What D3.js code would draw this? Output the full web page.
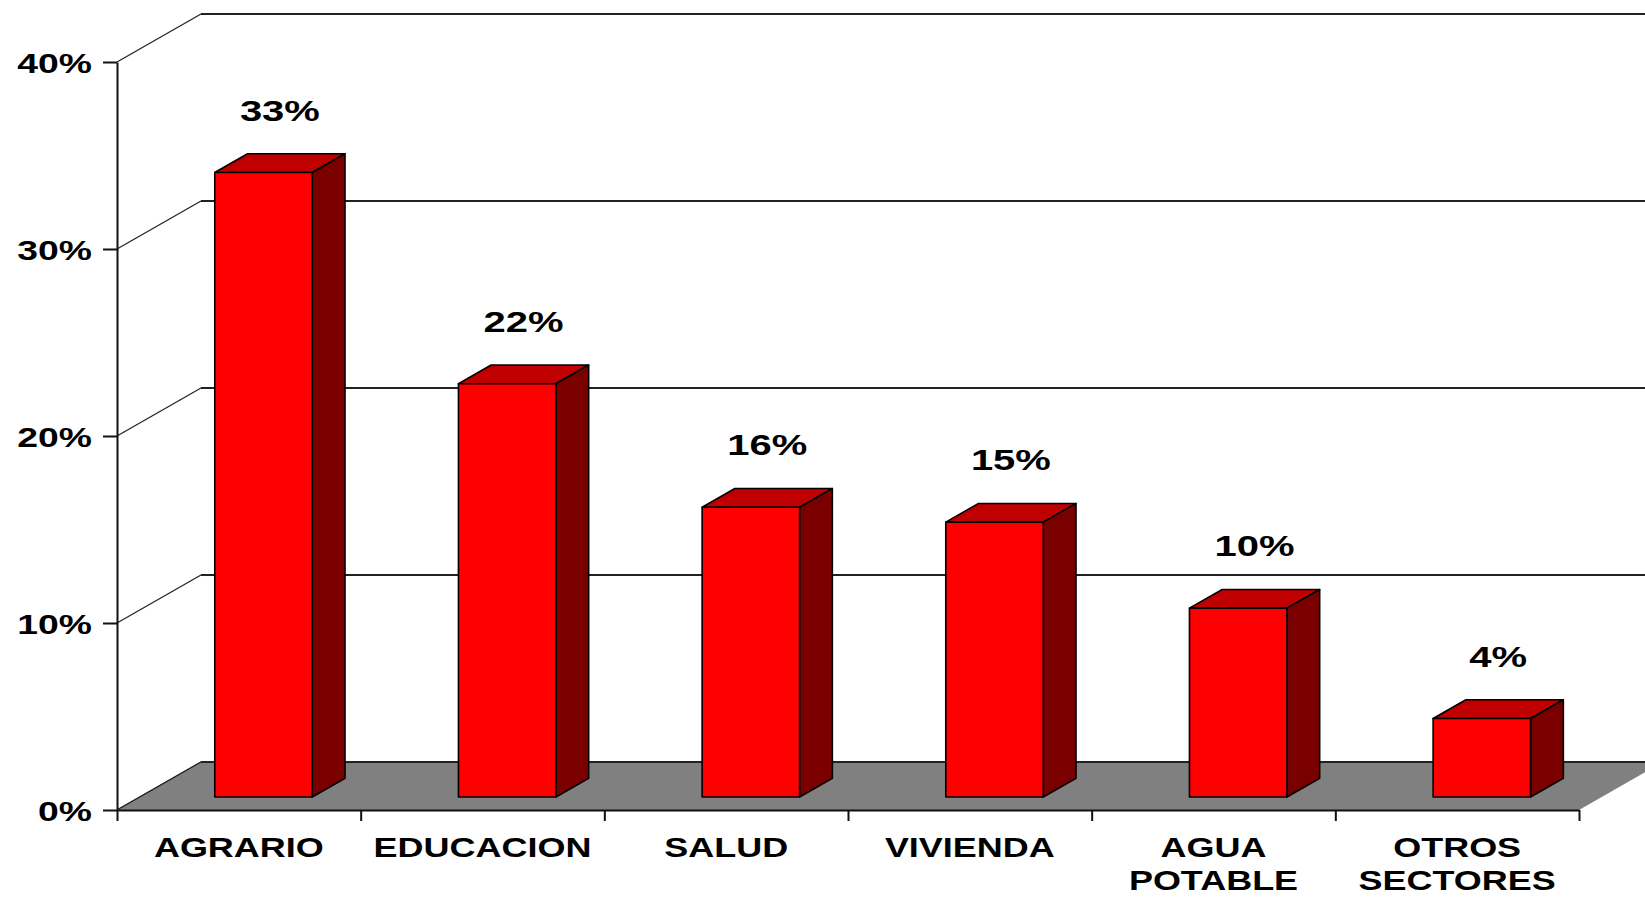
<!DOCTYPE html>
<html>
<head>
<meta charset="utf-8">
<script src="https://cdn.jsdelivr.net/npm/d3@7"></script>
<style>
  body { margin: 0; background: #fff; }
  svg { display: block; }
  text { font-family: 'Liberation Sans', Arial, sans-serif; font-weight: bold; fill: #000; }
</style>
</head>
<body>
<main></main>
<script>
const categories = ['AGRARIO', 'EDUCACION', 'SALUD', 'VIVIENDA', 'AGUA\nPOTABLE', 'OTROS\nSECTORES']
const values = [33.4, 22.1, 15.5, 14.7, 10.1, 4.2]
const valueLabels = ['33%', '22%', '16%', '15%', '10%', '4%']
const yTicks = [0, 10, 20, 30, 40]

const W = 1645
const H = 897
const stretch = 1.333 // the source picture is widened horizontally
const depth = { dx: 84, dy: 48 }
const barDepth = { front: 0.27, back: 0.66 }

const svg = d3.select('main')
  .append('svg')
  .attr('width', W)
  .attr('height', H)

const x = d3.scaleBand()
  .domain(categories)
  .range([117, 1579])
  .padding(0)
const xEdge = d3.scaleLinear()
  .domain([0, categories.length])
  .range([117, 1579])
const y = d3.scaleLinear()
  .domain([0, 40])
  .range([810, 62])

// project a front-plane point (px, value) back by depth fraction f
function proj (px, v, f) {
  return [px + depth.dx * f, y(v) - depth.dy * f]
}
function poly (pts) {
  return 'M' + pts.map(p => p.join(',')).join('L') + 'Z'
}

// back wall grid lines
svg.append('g')
  .selectAll('line')
  .data(yTicks)
  .enter()
  .append('line')
  .attr('x1', d => proj(117, d, 1)[0])
  .attr('x2', d => proj(1579, d, 1)[0])
  .attr('y1', d => proj(117, d, 1)[1])
  .attr('y2', d => proj(117, d, 1)[1])
  .style('stroke', '#222')
  .style('stroke-width', '2px')

// side wall lines
svg.append('g')
  .selectAll('line')
  .data(yTicks)
  .enter()
  .append('line')
  .attr('x1', d => proj(117, d, 0)[0])
  .attr('y1', d => proj(117, d, 0)[1])
  .attr('x2', d => proj(117, d, 1)[0])
  .attr('y2', d => proj(117, d, 1)[1])
  .style('stroke', '#222')
  .style('stroke-width', '1.2px')

// floor
svg.append('path')
  .attr('d', poly([proj(117, 0, 0), proj(1579, 0, 0), proj(1579, 0, 1), proj(117, 0, 1)]))
  .style('fill', '#808080')
svg.append('line')
  .attr('x1', proj(117, 0, 1)[0])
  .attr('x2', proj(1579, 0, 1)[0])
  .attr('y1', proj(117, 0, 1)[1])
  .attr('y2', proj(117, 0, 1)[1])
  .style('stroke', '#222')
  .style('stroke-width', '2px')
svg.append('line')
  .attr('x1', proj(117, 0, 0)[0])
  .attr('y1', proj(117, 0, 0)[1])
  .attr('x2', proj(117, 0, 1)[0])
  .attr('y2', proj(117, 0, 1)[1])
  .style('stroke', '#222')
  .style('stroke-width', '1.2px')

// bars
const data = categories.map((c, i) => ({ cat: c, v: values[i], label: valueLabels[i] }))
const bw = x.bandwidth() * 0.4
const bar = svg.append('g')
  .selectAll('g')
  .data(data)
  .enter()
  .append('g')
  .attr('class', 'bar')

function bx0 (d) { return x(d.cat) + (x.bandwidth() - bw) / 2 + 2 }

bar.append('path')
  .attr('d', d => {
    const a = barDepth.front
    const b = barDepth.back
    return poly([proj(bx0(d), d.v, a), proj(bx0(d) + bw, d.v, a), proj(bx0(d) + bw, d.v, b), proj(bx0(d), d.v, b)])
  })
  .style('fill', '#c00000')
bar.append('path')
  .attr('d', d => {
    const a = barDepth.front
    const b = barDepth.back
    const x1 = bx0(d) + bw
    return poly([proj(x1, 0, a), proj(x1, 0, b), proj(x1, d.v, b), proj(x1, d.v, a)])
  })
  .style('fill', '#7a0000')
bar.append('path')
  .attr('d', d => {
    const a = barDepth.front
    return poly([proj(bx0(d), 0, a), proj(bx0(d) + bw, 0, a), proj(bx0(d) + bw, d.v, a), proj(bx0(d), d.v, a)])
  })
  .style('fill', '#ff0000')
bar.selectAll('path')
  .style('stroke', '#000')
  .style('stroke-width', '1.6px')
  .style('stroke-linejoin', 'round')

bar.append('g')
  .attr('transform', d => {
    const p = proj(bx0(d) + bw / 2, d.v, barDepth.back)
    const cx = (proj(bx0(d), d.v, barDepth.front)[0] + proj(bx0(d) + bw, d.v, barDepth.back)[0]) / 2
    return 'translate(' + cx + ',' + (p[1] - 33) + ')'
  })
  .append('text')
  .attr('text-anchor', 'middle')
  .attr('transform', 'scale(' + stretch + ',1)')
  .style('font-size', '30px')
  .text(d => d.label)

// y axis
const yAxis = svg.append('g')
  .attr('transform', 'translate(117,0)')
  .call(d3.axisLeft(y)
    .tickValues(yTicks)
    .tickSize(14)
    .tickSizeOuter(0)
    .tickFormat(d => d + '%'))
yAxis.selectAll('path, line')
  .style('stroke', '#111')
  .style('stroke-width', '2px')
yAxis.selectAll('text')
  .attr('x', -25 / stretch)
  .attr('dy', '0.36em')
  .attr('transform', 'scale(' + stretch + ',1)')
  .style('font-size', '28px')
  .style('font-family', "'Liberation Sans', Arial, sans-serif")
  .style('font-weight', 'bold')
  .attr('fill', '#000')

// x axis
const xAxis = svg.append('g')
  .attr('transform', 'translate(0,810)')
  .call(d3.axisBottom(xEdge)
    .tickValues(d3.range(categories.length + 1))
    .tickSize(11)
    .tickSizeOuter(0)
    .tickFormat(''))
xAxis.selectAll('path, line')
  .style('stroke', '#111')
  .style('stroke-width', '2px')

const catLabel = svg.append('g')
  .selectAll('g')
  .data(categories)
  .enter()
  .append('g')
  .attr('transform', d => 'translate(' + (x(d) + x.bandwidth() / 2) + ',857)')
  .append('text')
  .attr('text-anchor', 'middle')
  .attr('transform', 'scale(' + stretch + ',1)')
  .style('font-size', '27px')
catLabel.selectAll('tspan')
  .data(d => d.split('\n'))
  .enter()
  .append('tspan')
  .attr('x', 0)
  .attr('dy', (d, i) => i === 0 ? 0 : 33)
  .text(d => d)
</script>
</body>
</html>
